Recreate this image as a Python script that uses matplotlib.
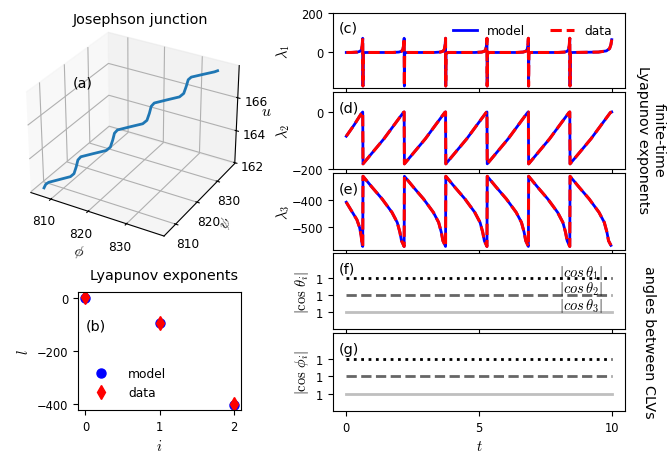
import numpy as np
import matplotlib
matplotlib.use('Agg')
import matplotlib.pyplot as plt

plt.rcParams['mathtext.fontset'] = 'cm'

# 3D trajectory of the Josephson junction
phi = [806.8, 807.1, 807.6, 809.3, 811.2, 811.8, 812.2, 812.5, 813.0, 815.0,
       817.2, 817.9, 818.3, 818.6, 819.1, 821.1, 823.3, 824.0, 824.4, 824.7,
       825.2, 827.2, 829.4, 830.1, 830.5, 830.8, 831.3, 833.3, 835.2, 835.7]
psi = phi
u = [162.15, 162.35, 162.45, 162.52, 162.6, 162.75, 163.15, 163.55, 163.72, 163.8,
     163.88, 164.05, 164.45, 164.85, 165.02, 165.1, 165.18, 165.35, 165.75, 166.15,
     166.32, 166.4, 166.48, 166.65, 167.05, 167.42, 167.55, 167.62, 167.68, 167.72]

# Lyapunov spectrum
idx = [0, 1, 2]
le_model = [0, -97, -404]
le_data = [1, -96, -403]

# finite-time exponents: spike times and shape of one cycle
spike_t = [0.62, 2.18, 3.74, 5.30, 6.86, 8.42]
c_dt = [-0.45, -0.2, -0.1, -0.05, -0.02, 0.0, 0.008, 0.02, 0.1]
c_val = [0, 2, 6, 14, 35, 72, -170, -4, 0]
c_head = ([0.0], [0])
c_tail = ([9.5, 9.8, 9.92, 9.97, 10.0], [2, 8, 20, 40, 65])

d_dt = [0.0, 0.01, 0.8, 1.45, 1.53]
d_val = [0, -182, -94, -12, -2]
d_head = ([0.0, 0.3, 0.55], [-85, -45, -8])
d_tail = ([10.0], [0])

e_dt = [0.0, 0.01, 0.35, 0.73, 1.1, 1.3, 1.4, 1.46]
e_val = [-570, -313, -353, -396, -445, -482, -518, -549]
e_head = ([0.0, 0.2, 0.4, 0.5, 0.56, 0.6], [-408, -440, -472, -500, -530, -565])
e_tail = ([9.97], [-566])

# angles between CLVs
t_ang = [0, 10]
cos_theta = [1, 1, 1]
cos_phi = [1, 1, 1]
shift = [1, 0, -1]
ang_styles = [(':', 'black'), ('--', '0.4'), ('-', '0.75')]


def build(head, dt, val, tail):
    t = list(head[0])
    v = list(head[1])
    for s in spike_t:
        t += [s + d for d in dt]
        v += val
    t += tail[0]
    v += tail[1]
    return t, v


lam = [build(c_head, c_dt, c_val, c_tail),
       build(d_head, d_dt, d_val, d_tail),
       build(e_head, e_dt, e_val, e_tail)]

W, H = 671, 456
fig = plt.figure(figsize=(W / 100, H / 100), dpi=100)

def rect(x0, y0, x1, y1):
    return [x0 / W, 1 - y1 / H, (x1 - x0) / W, (y1 - y0) / H]

tick_fs = 8.3
lab_fs = 10.4

# (a) 3D trajectory
ax3 = fig.add_axes(rect(-16, 15, 279, 252), projection='3d')
ax3.plot(phi, psi, u, color='C0', lw=2)
ax3.set_xlim(804.5, 839.5)
ax3.set_ylim(804.8, 839)
ax3.set_zlim(161.95, 167.9)
ax3.set_xticks([810, 820, 830])
ax3.set_yticks([810, 820, 830])
ax3.set_zticks([162, 164, 166])
ax3.tick_params(labelsize=8.7, pad=0)
ax3.set_xlabel(r'$\phi$', fontsize=lab_fs, labelpad=-2)
ax3.set_ylabel(r'$\psi$', fontsize=lab_fs, labelpad=-5)
# z label placed by hand next to the u axis
fig.text(266 / W, 1 - 111 / H, r'$u$', ha='center', va='center',
         fontsize=lab_fs + 1)
ax3.text2D(0.25, 0.695, '(a)', transform=ax3.transAxes, fontsize=lab_fs)
fig.text(141 / W, 1 - 20 / H, 'Josephson junction', ha='center',
         va='center', fontsize=lab_fs)

# (b) Lyapunov exponents
axb = fig.add_axes(rect(78, 293, 241, 411))
axb.plot(idx, le_model, 'bo', ms=6.5, label='model')
axb.plot(idx, le_data, 'rd', ms=7.5, label='data')
axb.set_xticks([0, 1, 2])
axb.set_yticks([-400, -200, 0])
axb.tick_params(labelsize=tick_fs)
axb.set_xlabel(r'$i$', fontsize=lab_fs)
axb.set_ylabel(r'$l$', fontsize=lab_fs)
axb.set_title('Lyapunov exponents', fontsize=lab_fs, pad=9, x=0.53)
axb.text(0.05, 0.68, '(b)', transform=axb.transAxes, fontsize=lab_fs)
axb.legend(loc='lower left', bbox_to_anchor=(0.0, 0.0), frameon=False,
           fontsize=8.8, handletextpad=1.2)

# right column
rows = [(14, 89), (93, 170), (174, 251), (254, 330), (334, 412)]
axs = [fig.add_axes(rect(333, r0, 625, r1)) for r0, r1 in rows]
for a in axs[1:]:
    a.sharex(axs[0])

ylims = [(-180, 200), (-200, 70), (-583, -301)]
ylabs = [r'$\lambda_1$', r'$\lambda_2$', r'$\lambda_3$']
yticks = [[0, 200], [-200, 0], [-500, -400]]
tags = ['(c)', '(d)', '(e)', '(f)', '(g)']
for k in range(3):
    a = axs[k]
    t, v = lam[k]
    a.plot(t, v, 'b-', lw=2, label='model')
    a.plot(t, v, 'r--', lw=2.2, label='data')
    a.set_ylim(*ylims[k])
    a.set_yticks(yticks[k])
    a.set_ylabel(ylabs[k], fontsize=lab_fs)
    a.yaxis.set_label_coords(-0.14, 0.5)
axs[0].legend(loc='upper right', bbox_to_anchor=(0.975, 0.934), ncol=2,
              frameon=False, fontsize=8.8, columnspacing=2.0,
              borderaxespad=0.1)

for k, vals in [(3, cos_theta), (4, cos_phi)]:
    a = axs[k]
    for j in range(3):
        ls, col = ang_styles[j]
        a.plot(t_ang, [vals[j] + shift[j]] * 2, ls=ls, color=col, lw=2)
    a.set_ylim(-1, 3.5)
    a.set_yticks([vals[j] + shift[j] for j in range(3)])
    a.set_yticklabels(['%g' % vals[j] for j in range(3)])
for j in range(3):
    axs[3].text(8.83, cos_theta[j] + shift[j] + 0.4,
                r'$|cos\,\theta_%d|$' % (j + 1), ha='center', va='center',
                fontsize=10.5)
axs[3].set_ylabel(r'$|\cos\,\theta_i|$', fontsize=lab_fs)
axs[4].set_ylabel(r'$|\cos\,\phi_i|$', fontsize=lab_fs)
axs[3].yaxis.set_label_coords(-0.075, 0.5)
axs[4].yaxis.set_label_coords(-0.075, 0.5)

for k, a in enumerate(axs):
    a.tick_params(labelsize=tick_fs)
    a.set_xticks([0, 5, 10])
    a.text(0.02, 0.8, tags[k], transform=a.transAxes, fontsize=lab_fs,
           va='center')
    if k < 4:
        a.tick_params(labelbottom=False)
axs[4].set_xlabel(r'$t$', fontsize=lab_fs)

fig.text(651 / W, 1 - 140 / H, 'finite-time\nLyapunov exponents',
         rotation=270, ha='center', va='center', fontsize=lab_fs,
         multialignment='center')
fig.text(649 / W, 1 - 342 / H, 'angles between CLVs', rotation=270,
         ha='center', va='center', fontsize=lab_fs)

fig.savefig('out.png', dpi=100)
